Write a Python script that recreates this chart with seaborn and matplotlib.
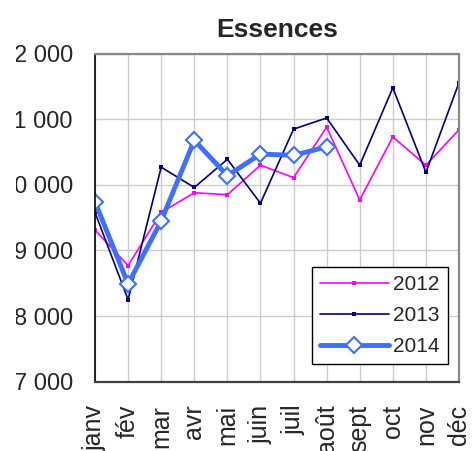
import pandas as pd
import matplotlib
matplotlib.use("Agg")
import matplotlib.pyplot as plt
from matplotlib.patches import Rectangle
import seaborn as sns

# données
mois = ["janv", "fév", "mar", "avr", "mai", "juin", "juil", "août", "sept", "oct", "nov", "déc"]
v2012 = [9310, 8770, 9580, 9880, 9850, 10300, 10110, 10880, 9770, 10730, 10300, 10840]
v2013 = [9580, 8250, 10270, 9960, 10390, 9720, 10850, 11020, 10300, 11480, 10190, 11560]
v2014 = [9740, 8490, 9450, 10680, 10140, 10470, 10450, 10580]
yticks = [7000, 8000, 9000, 10000, 11000, 12000]
ylabels = ["7 000", "8 000", "9 000", "10 000", "11 000", "12 000"]

sns.set_style("white")
plt.rcParams['font.family'] = ['Liberation Sans', 'DejaVu Sans']

fig = plt.figure(figsize=(4.72, 4.51), dpi=100)
ax = fig.add_axes([0.2013, 0.1537, 0.7712, 0.7273])

x_all = list(range(len(mois)))
sns.lineplot(x=x_all, y=v2012, ax=ax, color="#ff00ff", lw=1.2, marker="s",
             markersize=3, markeredgewidth=0, label="2012")
sns.lineplot(x=x_all, y=v2013, ax=ax, color="#000080", lw=1.2, marker="s",
             markersize=3.5, markeredgewidth=0, label="2013")
sns.lineplot(x=x_all[:len(v2014)], y=v2014, ax=ax, color="#3f6fff", lw=3.5, marker="D",
             markersize=8, markerfacecolor="white", markeredgecolor="#3f6fff",
             markeredgewidth=1.5, label="2014")

ax.set_xlim(0, len(mois) - 1)
ax.set_ylim(7000, 12000)
ax.set_xticks(x_all)
ax.set_xticklabels(mois, rotation=90, fontsize=18)
ax.set_yticks(yticks)
ax.set_yticklabels(ylabels, fontsize=17)
ax.set_xlabel("")
ax.set_ylabel("")

ax.grid(True, color="#cccccc", lw=1)
ax.tick_params(axis="x", direction="out", length=4.5, width=1, color="#404040", pad=12)
ax.tick_params(axis="y", direction="out", length=6, width=1, color="#404040", pad=10)

ax.spines["left"].set_color("black")
ax.spines["left"].set_linewidth(1.2)
ax.spines["bottom"].set_color("#404040")
ax.spines["bottom"].set_linewidth(1.6)
ax.spines["top"].set_color("#888888")
ax.spines["top"].set_linewidth(1.6)
ax.spines["right"].set_color("#888888")
ax.spines["right"].set_linewidth(1.6)

ax.set_title("Essences", fontsize=19, fontweight="bold", pad=12)

leg = ax.legend(loc="lower left", bbox_to_anchor=(0.595, 0.053), fontsize=15,
                frameon=True, fancybox=False, framealpha=1, edgecolor="black",
                handlelength=3.3, labelspacing=0.57, borderpad=0.4, handletextpad=0.2,
                borderaxespad=0)
leg.get_frame().set_linewidth(1)

# le graphique d'origine est rogné à gauche : les libellés de l'axe y sont coupés
fig.patches.append(Rectangle((0, 0), 16 / 472, 1, transform=fig.transFigure,
                             facecolor="white", edgecolor="none", zorder=10))

fig.savefig("out.png", dpi=100)
